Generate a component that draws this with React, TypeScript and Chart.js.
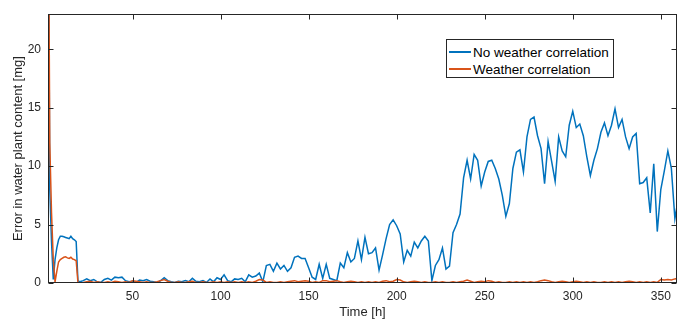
import React, { useEffect, useRef } from 'react';
import { Chart, registerables } from 'chart.js';

Chart.register(...registerables);

// Hours sampled hourly at the start, then every 2 h
const earlyHours = [2, 3, 4, 5, 6, 7, 8, 9, 10, 11, 12, 13, 14, 15, 16, 17, 18, 19, 20];
const lateHours = Array.from({ length: 170 }, (_, i) => 22 + 2 * i);

const blueEarly = [40, 8, 3.5, 0.3, 2.0, 3.0, 3.7, 4.0, 4.0, 3.95, 3.9, 3.85, 3.8, 4.0, 3.8, 3.7, 3.55, 0.2, 0.1];
const redEarly = [40, 12, 6, 2, 0.1, 1.0, 1.8, 2.0, 2.1, 2.2, 2.25, 2.15, 2.1, 2.2, 2.05, 2.0, 1.9, 0.05, 0.02];

const blueLate = [
  0.2, 0.35, 0.2, 0.3, 0.1,
  0.05, 0.3, 0.4, 0.25, 0.5,
  0.45, 0.5, 0.2, 0.1, 0.15,
  0.05, 0.25, 0.2, 0.3, 0.15,
  0.1, 0.05, 0.2, 0.45, 0.2,
  0.1, 0.05, 0.15, 0.1, 0.2,
  0.1, 0.4, 0.15, 0.1, 0.2,
  0.05, 0.35, 0.1, 0.45, 0.3,
  0.7, 0.2,
  0.1, 0.35, 0.3, 0.4, 0.1,
  0.7, 0.5, 0.6, 0.85, 0.1,
  1.5, 1.6, 1.0, 1.7, 1.2,
  1.5, 1.0, 1.3, 2.2, 2.3,
  2.1, 2.1, 1.3, 0.5, 0.3,
  1.6, 0.4, 1.6,
  0.4, 0.3, 0.2, 1.7, 1.3,
  2.6, 1.8, 2.1, 3.6, 2.0,
  3.9, 2.5, 2.6, 3.0, 1.1,
  2.4, 3.8, 5.0, 5.4, 4.9,
  4.2, 1.8, 2.8, 2.3, 3.5,
  3.0, 3.6, 4.0, 3.6, 0.2,
  1.5, 2.0, 3.0, 1.2, 1.45,
  4.3, 5.0, 5.9, 9.0, 10.5,
  8.9, 11.0, 10.5, 8.3, 9.5,
  10.4, 10.5, 9.8, 8.9, 7.5,
  5.7, 6.8, 9.8, 11.2, 11.4,
  9.5, 12.5, 14.0, 14.2, 12.6,
  11.5, 8.5, 12.1, 10.4, 8.7,
  12.5, 11.3, 10.8, 13.5, 14.7,
  13.3, 13.6, 12.6, 10.8, 9.2,
  10.5, 11.5, 12.9, 13.7, 12.6,
  13.5, 14.9, 13.3, 14.0, 12.5,
  11.5, 12.5, 12.8, 8.5, 8.6,
  9.0, 6.0, 10.2, 4.4, 8.0,
  9.6, 11.3, 9.8, 5.5, 7.3,
];

const redLate = [
  0.05, 0.1, 0.15, 0.05, 0.1,
  0.05, 0.05, 0.1, 0.05, 0.15,
  0.1, 0.05, 0.1, 0.05, 0.2,
  0.15, 0.1, 0.05, 0.1, 0.05,
  0.05, 0.1, 0.2, 0.3, 0.15,
  0.05, 0.05, 0.1, 0.05, 0.05,
  0.1, 0.15, 0.05, 0.05, 0.1,
  0.05, 0.05, 0.1, 0.05, 0.1,
  0.05, 0.1, 0.05, 0.1, 0.05,
  0.1, 0.05, 0.1, 0.05, 0.15,
  0.3, 0.25, 0.05, 0.1, 0.05,
  0.05, 0.1, 0.05, 0.1, 0.15,
  0.2, 0.1, 0.15, 0.2, 0.15,
  0.05, 0.1, 0.05, 0.2, 0.2,
  0.1, 0.15, 0.2, 0.1, 0.05,
  0.1, 0.15, 0.1, 0.05, 0.1,
  0.05, 0.1, 0.05, 0.1, 0.05,
  0.15, 0.2, 0.1, 0.15, 0.3,
  0.25, 0.1, 0.05, 0.1, 0.15,
  0.1, 0.05, 0.1, 0.05, 0.05,
  0.1, 0.05, 0.1, 0.05, 0.05,
  0.1, 0.05, 0.1, 0.15, 0.25,
  0.15, 0.05, 0.1, 0.15, 0.1,
  0.2, 0.15, 0.05, 0.1, 0.05,
  0.05, 0.1, 0.05, 0.1, 0.05,
  0.1, 0.05, 0.1, 0.05, 0.1,
  0.2, 0.25, 0.2, 0.1, 0.05,
  0.1, 0.15, 0.1, 0.05, 0.1,
  0.15, 0.1, 0.05, 0.1, 0.05,
  0.1, 0.05, 0.05, 0.1, 0.05,
  0.1, 0.05, 0.1, 0.05, 0.1,
  0.15, 0.1, 0.05, 0.1, 0.05,
  0.1, 0.05, 0.1, 0.05, 0.3,
  0.25, 0.3, 0.25, 0.35, 0.4,
];

const xTicks = [50, 100, 150, 200, 250, 300, 350];
const yTicks = [0, 5, 10, 15, 20];
const seriesNames = ['No weather correlation', 'Weather correlation'];
const seriesColors = ['#0072BD', '#D95319'];

const AXIS = '#262626';
const FONT = '"Liberation Sans", Arial, Helvetica, sans-serif';

const boxPlugin = {
  id: 'matlabBox',
  afterDatasetsDraw(chart: any) {
    const { ctx, chartArea: a, scales } = chart;
    ctx.save();
    ctx.strokeStyle = AXIS;
    ctx.lineWidth = 1;
    const L = Math.round(a.left) + 0.5;
    const R = Math.round(a.right) - 0.5;
    const T = Math.round(a.top) + 0.5;
    const B = Math.round(a.bottom) - 0.5;
    ctx.strokeRect(L, T, R - L, B - T);
    const len = 5;
    ctx.beginPath();
    xTicks.forEach((v) => {
      const x = Math.round(scales.x.getPixelForValue(v)) + 0.5;
      ctx.moveTo(x, B);
      ctx.lineTo(x, B - len);
      ctx.moveTo(x, T);
      ctx.lineTo(x, T + len);
    });
    yTicks.forEach((v) => {
      const y = Math.round(scales.y.getPixelForValue(v)) + 0.5;
      ctx.moveTo(L, y);
      ctx.lineTo(L + len, y);
      ctx.moveTo(R, y);
      ctx.lineTo(R - len, y);
    });
    ctx.stroke();
    ctx.restore();
  },
};

export default function App() {
  const ref = useRef<HTMLCanvasElement | null>(null);

  useEffect(() => {
    document.body.style.margin = '0';
    if (!ref.current) return;
    const toPoints = (early: number[], late: number[]) => [
      ...earlyHours.map((h, i) => ({ x: h, y: early[i] })),
      ...lateHours.map((h, i) => ({ x: h, y: late[i] })),
    ];
    const chart = new Chart(ref.current, {
      type: 'line',
      data: {
        datasets: [
          {
            label: seriesNames[0],
            data: toPoints(blueEarly, blueLate),
            borderColor: seriesColors[0],
            backgroundColor: seriesColors[0],
            borderWidth: 1.5,
            pointRadius: 0,
            tension: 0,
            order: 1,
          },
          {
            label: seriesNames[1],
            data: toPoints(redEarly, redLate),
            borderColor: seriesColors[1],
            backgroundColor: seriesColors[1],
            borderWidth: 1.5,
            pointRadius: 0,
            tension: 0,
            order: 0,
          },
        ],
      },
      options: {
        responsive: false,
        maintainAspectRatio: false,
        devicePixelRatio: 1,
        animation: false,
        layout: { padding: { top: 7, right: 10, left: 0, bottom: 0 } },
        plugins: { legend: { display: false }, tooltip: { enabled: false } },
        scales: {
          x: {
            type: 'linear',
            min: 2,
            max: 359.2,
            grid: { display: false, drawTicks: false },
            border: { display: false },
            afterBuildTicks: (s: any) => {
              s.ticks = xTicks.map((v) => ({ value: v }));
            },
            afterFit: (s: any) => {
              s.height = 41;
            },
            ticks: {
              padding: 6,
              color: AXIS,
              font: { family: FONT, size: 12 },
              maxRotation: 0,
              autoSkip: false,
            },
            title: {
              display: true,
              text: 'Time [h]',
              color: AXIS,
              font: { family: FONT, size: 13 },
              padding: { top: 0, bottom: 4 },
            },
          },
          y: {
            type: 'linear',
            min: 0,
            max: 23,
            grid: { display: false, drawTicks: false },
            border: { display: false },
            afterBuildTicks: (s: any) => {
              s.ticks = yTicks.map((v) => ({ value: v }));
            },
            afterFit: (s: any) => {
              s.width = 48;
            },
            ticks: {
              padding: 7,
              color: AXIS,
              font: { family: FONT, size: 12 },
              autoSkip: false,
            },
            title: {
              display: true,
              text: 'Error in water plant content [mg]',
              color: AXIS,
              font: { family: FONT, size: 13 },
              padding: { top: 11, bottom: 0 },
            },
          },
        },
      },
      plugins: [boxPlugin],
    } as any);
    return () => chart.destroy();
  }, []);

  return (
    <div style={{ position: 'relative', width: 687, height: 324, background: '#fff' }}>
      <canvas ref={ref} width={687} height={324} style={{ display: 'block', width: 687, height: 324 }} />
      <div
        style={{
          position: 'absolute',
          left: 446,
          top: 39,
          width: 166,
          height: 37,
          border: `1px solid ${AXIS}`,
          background: '#fff',
          fontFamily: FONT,
          fontSize: 13.5,
          color: '#000',
          boxSizing: 'content-box',
        }}
      >
        {seriesNames.map((name, i) => (
          <div key={name} style={{ position: 'absolute', left: 0, top: 4 + i * 17, height: 16, display: 'flex', alignItems: 'center', whiteSpace: 'nowrap' }}>
            <span style={{ display: 'inline-block', width: 22, height: 2, background: seriesColors[i], marginLeft: 2, marginRight: 2 }} />
            <span>{name}</span>
          </div>
        ))}
      </div>
    </div>
  );
}
